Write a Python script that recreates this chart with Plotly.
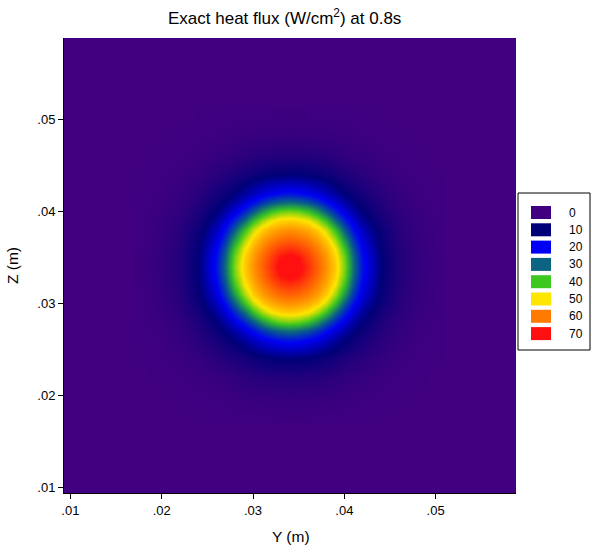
import plotly.graph_objects as go

# ---------------- data ----------------
# grid positions (m) of the sampled heat-flux field (finer near the spot)
grid_y = [0.018, 0.020, 0.022, 0.024, 0.026, 0.027, 0.028, 0.029, 0.030, 0.031,
          0.032, 0.033, 0.034, 0.035, 0.036, 0.037, 0.038, 0.039, 0.040, 0.041,
          0.042, 0.044, 0.046, 0.048, 0.050]
grid_z = [0.018, 0.020, 0.022, 0.024, 0.026, 0.027, 0.028, 0.029, 0.030, 0.031,
          0.032, 0.033, 0.034, 0.035, 0.036, 0.037, 0.038, 0.039, 0.040, 0.041,
          0.042, 0.044, 0.046, 0.048, 0.050]

# heat flux (W/cm^2), rows = Z (bottom to top), columns = Y
flux = [
    [0.0, 0.0, 0.0, 0.1, 0.2, 0.3, 0.4, 0.5, 0.5, 0.6, 0.6, 0.7, 0.7, 0.7, 0.6, 0.6, 0.5, 0.5, 0.4, 0.3, 0.2, 0.1, 0.0, 0.0, 0.0],
    [0.0, 0.0, 0.2, 0.4, 0.6, 0.8, 1.1, 1.4, 1.6, 1.7, 1.9, 1.9, 2.0, 1.9, 1.9, 1.7, 1.6, 1.4, 1.1, 0.8, 0.6, 0.4, 0.2, 0.0, 0.0],
    [0.0, 0.2, 0.4, 0.8, 1.7, 2.0, 2.5, 3.2, 3.7, 4.1, 4.4, 4.6, 4.7, 4.6, 4.4, 4.1, 3.7, 3.2, 2.5, 2.0, 1.7, 0.8, 0.4, 0.2, 0.0],
    [0.1, 0.4, 0.8, 1.9, 3.5, 4.4, 5.4, 6.7, 7.9, 8.9, 9.6, 10.0, 10.2, 10.0, 9.6, 8.9, 7.9, 6.7, 5.4, 4.4, 3.5, 1.9, 0.8, 0.4, 0.1],
    [0.2, 0.6, 1.7, 3.5, 6.4, 8.3, 10.2, 12.8, 15.4, 17.8, 19.6, 21.2, 21.7, 21.2, 19.6, 17.8, 15.4, 12.8, 10.2, 8.3, 6.4, 3.5, 1.7, 0.6, 0.2],
    [0.3, 0.8, 2.0, 4.4, 8.3, 10.7, 13.8, 17.5, 21.2, 25.2, 28.3, 30.3, 31.2, 30.3, 28.3, 25.2, 21.2, 17.5, 13.8, 10.7, 8.3, 4.4, 2.0, 0.8, 0.3],
    [0.4, 1.1, 2.5, 5.4, 10.2, 13.8, 18.2, 23.5, 29.0, 35.0, 39.7, 42.6, 43.5, 42.6, 39.7, 35.0, 29.0, 23.5, 18.2, 13.8, 10.2, 5.4, 2.5, 1.1, 0.4],
    [0.5, 1.4, 3.2, 6.7, 12.8, 17.5, 23.5, 30.3, 38.8, 45.2, 49.5, 51.6, 52.4, 51.6, 49.5, 45.2, 38.8, 30.3, 23.5, 17.5, 12.8, 6.7, 3.2, 1.4, 0.5],
    [0.5, 1.6, 3.7, 7.9, 15.4, 21.2, 29.0, 38.8, 47.0, 52.4, 55.4, 57.1, 57.7, 57.1, 55.4, 52.4, 47.0, 38.8, 29.0, 21.2, 15.4, 7.9, 3.7, 1.6, 0.5],
    [0.6, 1.7, 4.1, 8.9, 17.8, 25.2, 35.0, 45.2, 52.4, 56.6, 59.5, 61.5, 62.3, 61.5, 59.5, 56.6, 52.4, 45.2, 35.0, 25.2, 17.8, 8.9, 4.1, 1.7, 0.6],
    [0.6, 1.9, 4.4, 9.6, 19.6, 28.3, 39.7, 49.5, 55.4, 59.5, 63.0, 65.8, 66.9, 65.8, 63.0, 59.5, 55.4, 49.5, 39.7, 28.3, 19.6, 9.6, 4.4, 1.9, 0.6],
    [0.7, 1.9, 4.6, 10.0, 21.2, 30.3, 42.6, 51.6, 57.1, 61.5, 65.8, 69.9, 71.7, 69.9, 65.8, 61.5, 57.1, 51.6, 42.6, 30.3, 21.2, 10.0, 4.6, 1.9, 0.7],
    [0.7, 2.0, 4.7, 10.2, 21.7, 31.2, 43.5, 52.4, 57.7, 62.3, 66.9, 71.7, 74.0, 71.7, 66.9, 62.3, 57.7, 52.4, 43.5, 31.2, 21.7, 10.2, 4.7, 2.0, 0.7],
    [0.7, 1.9, 4.6, 10.0, 21.2, 30.3, 42.6, 51.6, 57.1, 61.5, 65.8, 69.9, 71.7, 69.9, 65.8, 61.5, 57.1, 51.6, 42.6, 30.3, 21.2, 10.0, 4.6, 1.9, 0.7],
    [0.6, 1.9, 4.4, 9.6, 19.6, 28.3, 39.7, 49.5, 55.4, 59.5, 63.0, 65.8, 66.9, 65.8, 63.0, 59.5, 55.4, 49.5, 39.7, 28.3, 19.6, 9.6, 4.4, 1.9, 0.6],
    [0.6, 1.7, 4.1, 8.9, 17.8, 25.2, 35.0, 45.2, 52.4, 56.6, 59.5, 61.5, 62.3, 61.5, 59.5, 56.6, 52.4, 45.2, 35.0, 25.2, 17.8, 8.9, 4.1, 1.7, 0.6],
    [0.5, 1.6, 3.7, 7.9, 15.4, 21.2, 29.0, 38.8, 47.0, 52.4, 55.4, 57.1, 57.7, 57.1, 55.4, 52.4, 47.0, 38.8, 29.0, 21.2, 15.4, 7.9, 3.7, 1.6, 0.5],
    [0.5, 1.4, 3.2, 6.7, 12.8, 17.5, 23.5, 30.3, 38.8, 45.2, 49.5, 51.6, 52.4, 51.6, 49.5, 45.2, 38.8, 30.3, 23.5, 17.5, 12.8, 6.7, 3.2, 1.4, 0.5],
    [0.4, 1.1, 2.5, 5.4, 10.2, 13.8, 18.2, 23.5, 29.0, 35.0, 39.7, 42.6, 43.5, 42.6, 39.7, 35.0, 29.0, 23.5, 18.2, 13.8, 10.2, 5.4, 2.5, 1.1, 0.4],
    [0.3, 0.8, 2.0, 4.4, 8.3, 10.7, 13.8, 17.5, 21.2, 25.2, 28.3, 30.3, 31.2, 30.3, 28.3, 25.2, 21.2, 17.5, 13.8, 10.7, 8.3, 4.4, 2.0, 0.8, 0.3],
    [0.2, 0.6, 1.7, 3.5, 6.4, 8.3, 10.2, 12.8, 15.4, 17.8, 19.6, 21.2, 21.7, 21.2, 19.6, 17.8, 15.4, 12.8, 10.2, 8.3, 6.4, 3.5, 1.7, 0.6, 0.2],
    [0.1, 0.4, 0.8, 1.9, 3.5, 4.4, 5.4, 6.7, 7.9, 8.9, 9.6, 10.0, 10.2, 10.0, 9.6, 8.9, 7.9, 6.7, 5.4, 4.4, 3.5, 1.9, 0.8, 0.4, 0.1],
    [0.0, 0.2, 0.4, 0.8, 1.7, 2.0, 2.5, 3.2, 3.7, 4.1, 4.4, 4.6, 4.7, 4.6, 4.4, 4.1, 3.7, 3.2, 2.5, 2.0, 1.7, 0.8, 0.4, 0.2, 0.0],
    [0.0, 0.0, 0.2, 0.4, 0.6, 0.8, 1.1, 1.4, 1.6, 1.7, 1.9, 1.9, 2.0, 1.9, 1.9, 1.7, 1.6, 1.4, 1.1, 0.8, 0.6, 0.4, 0.2, 0.0, 0.0],
    [0.0, 0.0, 0.0, 0.1, 0.2, 0.3, 0.4, 0.5, 0.5, 0.6, 0.6, 0.7, 0.7, 0.7, 0.6, 0.6, 0.5, 0.5, 0.4, 0.3, 0.2, 0.1, 0.0, 0.0, 0.0],
]

legend_levels = [0, 10, 20, 30, 40, 50, 60, 70]
legend_colors = ["#400080", "#000078", "#0000F5", "#0A6482",
                 "#3CC81E", "#FFE600", "#FF7A00", "#FF1010"]

tick_values = [0.01, 0.02, 0.03, 0.04, 0.05]
tick_labels = [".01", ".02", ".03", ".04", ".05"]

title_text = "Exact heat flux (W/cm<sup>2</sup>) at 0.8s"
x_title = "Y (m)"
y_title = "Z (m)"

# ---------------- layout geometry ----------------
W, H = 592, 553
L, R, T, B = 64, 76, 38, 60
PW, PH = W - L - R, H - T - B
FONT = "Arial, Liberation Sans, sans-serif"


def px(x):
    return (x - L) / PW


def py(y):
    return 1 - (y - T) / PH


zmax = legend_levels[-1]
colorscale = [[lvl / zmax, c] for lvl, c in zip(legend_levels, legend_colors)]

fig = go.Figure()
fig.add_trace(go.Heatmap(
    x=grid_y, y=grid_z, z=flux,
    colorscale=colorscale, zmin=0, zmax=zmax,
    zsmooth="best", showscale=False, hoverinfo="skip",
))

axis_common = dict(
    tickvals=tick_values, ticktext=tick_labels,
    ticks="outside", ticklen=5, tickwidth=1, tickcolor="black",
    showgrid=False, zeroline=False,
    showline=True, linecolor="black", linewidth=1,
    tickfont=dict(family=FONT, size=13, color="black"),
)

fig.update_layout(
    width=W, height=H,
    margin=dict(l=L, r=R, t=T, b=B, pad=0),
    paper_bgcolor="white",
    plot_bgcolor=legend_colors[0],
    showlegend=False,
    xaxis=dict(range=[0.0093, 0.0588], **axis_common),
    yaxis=dict(range=[0.00935, 0.0589], **axis_common),
)

# title and axis titles
fig.add_annotation(
    text=title_text, xref="paper", yref="paper",
    x=px(284), y=py(17), xanchor="center", yanchor="middle",
    showarrow=False, font=dict(family=FONT, size=17, color="black"),
)
fig.add_annotation(
    text=x_title, xref="paper", yref="paper",
    x=px(291), y=py(536), xanchor="center", yanchor="middle",
    showarrow=False, font=dict(family=FONT, size=15.5, color="black"),
)
fig.add_annotation(
    text=y_title, xref="paper", yref="paper", textangle=-90,
    x=px(12), y=py(266), xanchor="center", yanchor="middle",
    showarrow=False, font=dict(family=FONT, size=15.5, color="black"),
)

# legend box
shapes = [dict(type="rect", xref="paper", yref="paper",
               x0=px(518), x1=px(590), y0=py(350), y1=py(193),
               line=dict(color="black", width=1), fillcolor="white", layer="above")]
step = 17.3
for k, (lvl, col) in enumerate(zip(legend_levels, legend_colors)):
    top = 206 + k * step
    shapes.append(dict(type="rect", xref="paper", yref="paper",
                       x0=px(531), x1=px(551), y0=py(top + 13), y1=py(top),
                       line=dict(color=col, width=0), fillcolor=col, layer="above"))
    fig.add_annotation(text=str(lvl), xref="paper", yref="paper",
                       x=px(567), y=py(top + 6.5), xanchor="left", yanchor="middle",
                       showarrow=False, font=dict(family=FONT, size=12, color="black"))
fig.update_layout(shapes=shapes)

fig.write_html("out.html")
